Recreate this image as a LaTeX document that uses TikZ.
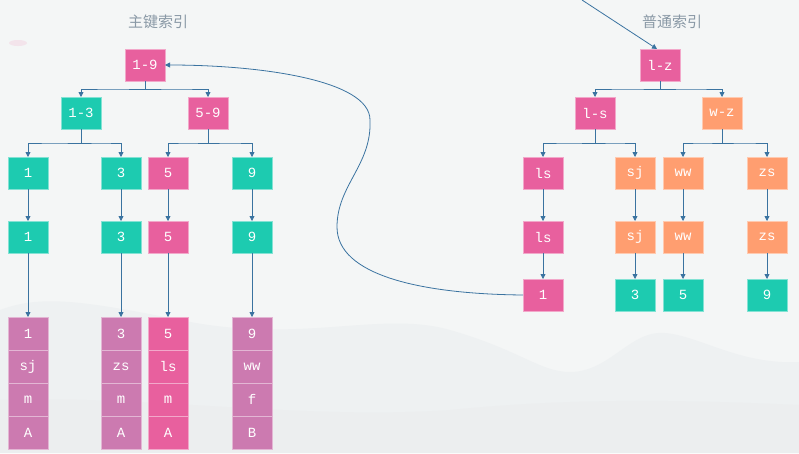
\documentclass[tikz,border=0pt]{standalone}
\usepackage{fontspec}
\setmonofont{Liberation Mono}
\newfontfamily\cjk{Noto Sans CJK SC}
\usetikzlibrary{positioning, arrows.meta, calc}
\definecolor{bgpaper}{HTML}{F4F6F6}
\definecolor{waveA}{HTML}{EEF1F2}
\definecolor{waveB}{HTML}{ECEEEF}
\definecolor{keypink}{HTML}{E8609E}
\definecolor{keyteal}{HTML}{1DCBB0}
\definecolor{keyorange}{HTML}{FF9E70}
\definecolor{rowpink}{HTML}{CC7AB0}
\definecolor{linkblue}{HTML}{3A73A0}
\definecolor{titlegray}{HTML}{8A99A6}
\tikzset{
x=1pt, y=-1pt, % pixel-like coordinates, y downwards
key/.style={minimum width=40pt, minimum height=32pt, inner sep=0pt, outer sep=0pt, fill=#1, draw=#1!55!white, line width=0.8pt, text=white, font=\ttfamily\fontsize{14}{14}\selectfont}, % index boxes
row/.style={key=#1, minimum height=33pt}, % cells of a full row
link/.style={draw=linkblue, line width=0.8pt, -{Triangle[length=5pt, width=5pt]}}, % connectors
title/.style={text=titlegray, font=\cjk\fontsize{15}{15}\selectfont},
}
\begin{document}
\begin{tikzpicture}
% paper and waves
\fill[bgpaper] (0,0) rectangle (799,453);
\useasboundingbox (0,0) rectangle (799,453);
\fill[waveA] (0,310) .. controls (40,295) and (80,300) .. (180,320) .. controls (300,345) and (380,310) .. (450,330) .. controls (520,350) and (540,372) .. (570,372) .. controls (610,372) and (630,330) .. (665,333) .. controls (700,336) and (740,365) .. (799,362) -- (799,453) -- (0,453) -- cycle;
\fill[waveB] (0,400) .. controls (150,395) and (300,420) .. (450,410) .. controls (550,400) and (650,398) .. (799,405) -- (799,453) -- (0,453) -- cycle;
\fill[keypink!12!bgpaper] (18,43) ellipse (9pt and 3pt);

% primary key index
\node[title] (ptitle) at (158,22) {主键索引};
\node[key=keypink] (p19) at (145,65) {1-9};
\node[key=keyteal] (p13) at (81,113) {1-3};
\node[key=keypink] (p59) at (208,113) {5-9};
\node[key=keyteal] (p1) at (28,173) {1};
\node[key=keyteal] (p3) at (121,173) {3};
\node[key=keypink] (p5) at (168,173) {5};
\node[key=keyteal] (p9) at (252,173) {9};
\node[key=keyteal, below=32pt of p1] (p1b) {1};
\node[key=keyteal, below=32pt of p3] (p3b) {3};
\node[key=keypink, below=32pt of p5] (p5b) {5};
\node[key=keyteal, below=32pt of p9] (p9b) {9};
% full rows
\node[row=rowpink, below=64pt of p1b] (r1a) {1};
\node[row=rowpink, below=0pt of r1a] (r1b) {sj};
\node[row=rowpink, below=0pt of r1b] (r1c) {m};
\node[row=rowpink, below=0pt of r1c] (r1d) {A};
\node[row=rowpink, below=64pt of p3b] (r3a) {3};
\node[row=rowpink, below=0pt of r3a] (r3b) {zs};
\node[row=rowpink, below=0pt of r3b] (r3c) {m};
\node[row=rowpink, below=0pt of r3c] (r3d) {A};
\node[row=keypink, below=64pt of p5b] (r5a) {5};
\node[row=keypink, below=0pt of r5a] (r5b) {ls};
\node[row=keypink, below=0pt of r5b] (r5c) {m};
\node[row=keypink, below=0pt of r5c] (r5d) {A};
\node[row=rowpink, below=64pt of p9b] (r9a) {9};
\node[row=rowpink, below=0pt of r9a] (r9b) {ww};
\node[row=rowpink, below=0pt of r9b] (r9c) {f};
\node[row=rowpink, below=0pt of r9c] (r9d) {B};

% secondary index
\node[title] (stitle) at (672,22) {普通索引};
\node[key=keypink] (s1z) at (660,65) {l-z};
\node[key=keypink] (s1s) at (595,113) {l-s};
\node[key=keyorange] (swz) at (722,113) {w-z};
\node[key=keypink] (sls) at (543,173) {ls};
\node[key=keyorange] (ssj) at (635,173) {sj};
\node[key=keyorange] (sww) at (683,173) {ww};
\node[key=keyorange] (szs) at (767,173) {zs};
\node[key=keypink, below=32pt of sls] (slsb) {ls};
\node[key=keyorange, below=32pt of ssj] (ssjb) {sj};
\node[key=keyorange, below=32pt of sww] (swwb) {ww};
\node[key=keyorange, below=32pt of szs] (szsb) {zs};
\node[key=keypink, below=26pt of slsb] (sl1) {1};
\node[key=keyteal, below=26pt of ssjb] (s3) {3};
\node[key=keyteal, below=26pt of swwb] (s5) {5};
\node[key=keyteal, below=26pt of szsb] (s9) {9};
\coordinate (query) at (582,0);

% tree connectors
\foreach \a/\b in {p19/p13, p19/p59, p13/p1, p13/p3, p59/p5, p59/p9, s1z/s1s, s1z/swz, s1s/sls, s1s/ssj, swz/sww, swz/szs}
  \draw[link] (\a.south) |- ($(\a.south)!.5!(\b.north)$) -| (\b.north);
\foreach \a/\b in {p1/p1b, p3/p3b, p5/p5b, p9/p9b, p1b/r1a, p3b/r3a, p5b/r5a, p9b/r9a, sls/slsb, ssj/ssjb, sww/swwb, szs/szsb, slsb/sl1, ssjb/s3, swwb/s5, szsb/s9}
  \draw[link] (\a) -- (\b);
\draw[link] (query) -- ([xshift=-3pt]s1z.north);
\draw[link] (sl1.west) .. controls (420,294) and (337,275) .. (337,227) .. controls (337,185) and (372,165) .. (370,120) .. controls (370,80) and (260,65) .. (p19.east);
\end{tikzpicture}
\end{document}
